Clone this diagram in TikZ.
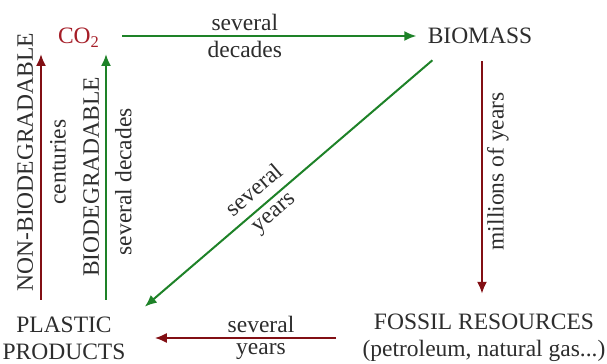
\documentclass[tikz,border=0pt]{standalone}
\usepackage{fontspec}
\setmainfont{Liberation Serif}
\newfontfamily\serifface{Liberation Serif}
\usetikzlibrary{arrows.meta}
\definecolor{leafgreen}{RGB}{30,130,40}
\definecolor{rustred}{RGB}{130,15,20}
\definecolor{co2red}{RGB}{165,30,40}
\definecolor{inkgray}{RGB}{45,45,45}

\begin{document}
\begin{tikzpicture}[x=0.5pt,y=-0.5pt,
  stage/.style={text=inkgray,align=center,inner sep=3pt,font=\serifface\fontsize{11.75}{13.5}\selectfont},
  lbl/.style={text=inkgray,inner sep=2pt,font=\serifface\fontsize{11.75}{13.5}\selectfont},
  grnarrow/.style={draw=leafgreen,line width=1pt,-{Latex[length=6pt,width=5pt]}},
  redarrow/.style={draw=rustred,line width=1pt,-{Latex[length=6pt,width=5pt]}}]
\useasboundingbox (0,0) rectangle (607,364);
\node[stage,text=co2red] (co2) at (79,38) {CO\textsubscript{2}};
\node[stage] (bio) at (480,36) {BIOMASS};
\node[stage] (plastic) at (64,338.5) {PLASTIC\\PRODUCTS};
\node[stage] (fossil) at (484,338) {FOSSIL RESOURCES\\(petroleum, natural gas...)};
\draw[grnarrow,shorten <=8pt,shorten >=2.5pt] (co2.east |- bio.west) -- (bio.west)
  node[lbl,midway,above,xshift=-9.5pt] {several}
  node[lbl,midway,below,xshift=-9.5pt] {decades};
\draw[redarrow,shorten <=5.5pt,shorten >=7pt] ([xshift=1pt]bio.south) -- ([xshift=1pt]bio.south |- fossil.north)
  node[lbl,pos=0.47,rotate=90,anchor=north] {millions of years};
\draw[redarrow,shorten <=10pt,shorten >=11.5pt] (fossil.west) -- (plastic.east |- fossil.west)
  node[lbl,midway,above,xshift=8.5pt] {several}
  node[lbl,midway,below,xshift=8.5pt] {years};
\draw[grnarrow] ([xshift=5.5pt,yshift=-5pt]bio.south west) -- ([xshift=6.5pt,yshift=2pt]plastic.north east)
  node[lbl,pos=0.58,sloped,above=2.5pt] {several}
  node[lbl,pos=0.58,sloped,below=1pt] {years};
\draw[redarrow] ([xshift=-11.5pt,yshift=5.5pt]plastic.north) -- ([xshift=-11.5pt]plastic.north |- co2.south)
  node[lbl,pos=0.56,sloped,above=1.5pt] {NON-BIODEGRADABLE}
  node[lbl,pos=0.56,sloped,below=2pt] {centuries};
\draw[grnarrow] ([xshift=21pt,yshift=5.5pt]plastic.north) -- ([xshift=21pt]plastic.north |- co2.south)
  node[lbl,pos=0.5,sloped,above=1pt] {BIODEGRADABLE}
  node[lbl,pos=0.48,sloped,below=2pt] {several decades};
\end{tikzpicture}
\end{document}
